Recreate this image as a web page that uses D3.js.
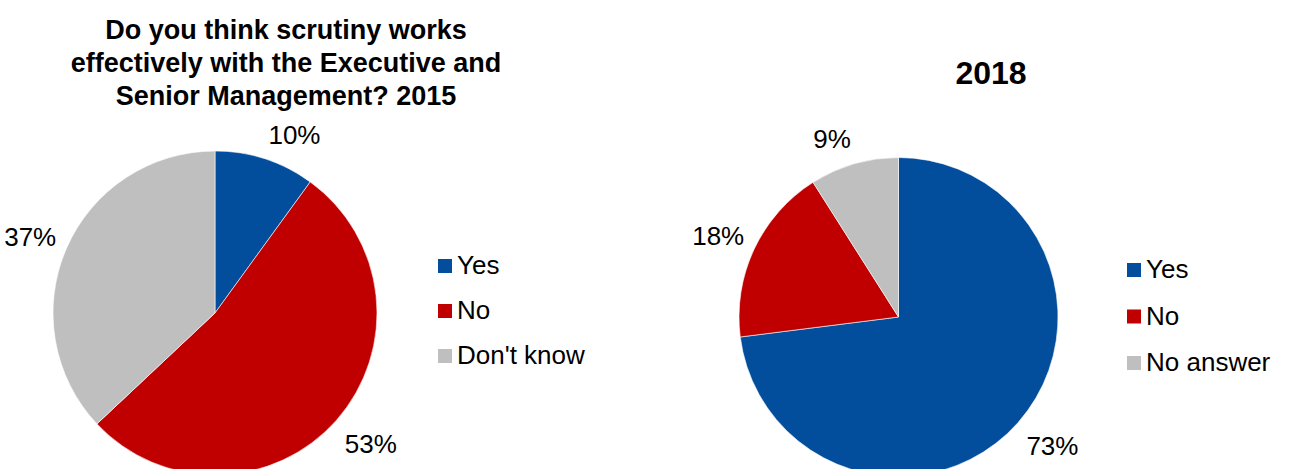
<!DOCTYPE html>
<html>
<head>
<meta charset="utf-8">
<script src="https://cdn.jsdelivr.net/npm/d3@7"></script>
<style>
  html, body { margin: 0; padding: 0; background: #fff; }
  svg { display: block; font-family: "Liberation Sans", Arial, sans-serif; }
</style>
</head>
<body>
<svg id="chart" width="1290" height="469"></svg>
<script>
// Survey answers, percent of respondents
const categories2015 = ["Yes", "No", "Don't know"];
const values2015 = [10, 53, 37];
const title2015 = ["Do you think scrutiny works", "effectively with the Executive and", "Senior Management? 2015"];

const categories2018 = ["Yes", "No", "No answer"];
const values2018 = [73, 18, 9];
const title2018 = ["2018"];

const palette = ["#024D9C", "#C00000", "#BFBFBF"];

const svg = d3.select("#chart");

function drawPie(opts) {
  const { cats, vals, title, cx, cy, r, titleX, titleY, titleSize, titleGap, legendX, legendY, legendGap } = opts;
  const color = d3.scaleOrdinal().domain(d3.range(cats.length)).range(palette);
  const data = cats.map((c, i) => ({ cat: c, value: vals[i], i }));

  const pie = d3.pie().sort(null).value(d => d.value);
  const arc = d3.arc().innerRadius(0).outerRadius(r);
  const arcs = pie(data);

  const g = svg.append("g").attr("transform", `translate(${cx},${cy})`);
  g.selectAll("path.slice").data(arcs).join("path")
    .attr("class", "slice")
    .attr("d", arc)
    .attr("fill", d => color(d.data.i))
    .attr("stroke", "#ffffff")
    .attr("stroke-width", 0.6);

  // value labels: anchored just outside the rim at each slice's mid-angle
  const fontSize = 26;
  const capH = fontSize * 0.73;
  const clamp = v => Math.max(-1, Math.min(1, v));
  g.selectAll("text.val").data(arcs).join("text")
    .attr("class", "val")
    .attr("font-size", fontSize)
    .attr("fill", "#000")
    .text(d => d.data.value + "%")
    .each(function(d) {
      const a = (d.startAngle + d.endAngle) / 2;
      const sx = Math.sin(a), cs = Math.cos(a);
      const px = (r + 11) * sx;
      const py = -(r + (cs > 0 ? 16 : 21)) * cs;
      const k = clamp(cs * 1.6);
      d3.select(this)
        .attr("text-anchor", sx >= 0 ? "start" : "end")
        .attr("x", px)
        .attr("y", py - k * capH / 2 + capH / 2);
    });

  // title
  svg.append("text")
    .attr("x", titleX)
    .attr("y", titleY)
    .attr("text-anchor", "middle")
    .attr("font-weight", "bold")
    .attr("font-size", titleSize)
    .attr("fill", "#000")
    .selectAll("tspan").data(title).join("tspan")
    .attr("x", titleX)
    .attr("dy", (d, i) => i === 0 ? 0 : titleGap)
    .text(d => d);

  // legend
  const lg = svg.append("g").attr("transform", `translate(${legendX},${legendY})`);
  const items = lg.selectAll("g").data(data).join("g")
    .attr("transform", (d, i) => `translate(0,${i * legendGap})`);
  items.append("rect")
    .attr("width", 14).attr("height", 14)
    .attr("fill", d => color(d.i));
  items.append("text")
    .attr("x", 19).attr("y", 15)
    .attr("font-size", fontSize)
    .attr("fill", "#000")
    .text(d => d.cat);
}

drawPie({
  cats: categories2015, vals: values2015, title: title2015,
  cx: 215, cy: 313, r: 162,
  titleX: 286, titleY: 39, titleSize: 27, titleGap: 33,
  legendX: 438, legendY: 259, legendGap: 45
});

drawPie({
  cats: categories2018, vals: values2018, title: title2018,
  cx: 898.5, cy: 317, r: 159.5,
  titleX: 991, titleY: 84, titleSize: 32, titleGap: 33,
  legendX: 1127, legendY: 263, legendGap: 46.5
});
</script>
</body>
</html>
